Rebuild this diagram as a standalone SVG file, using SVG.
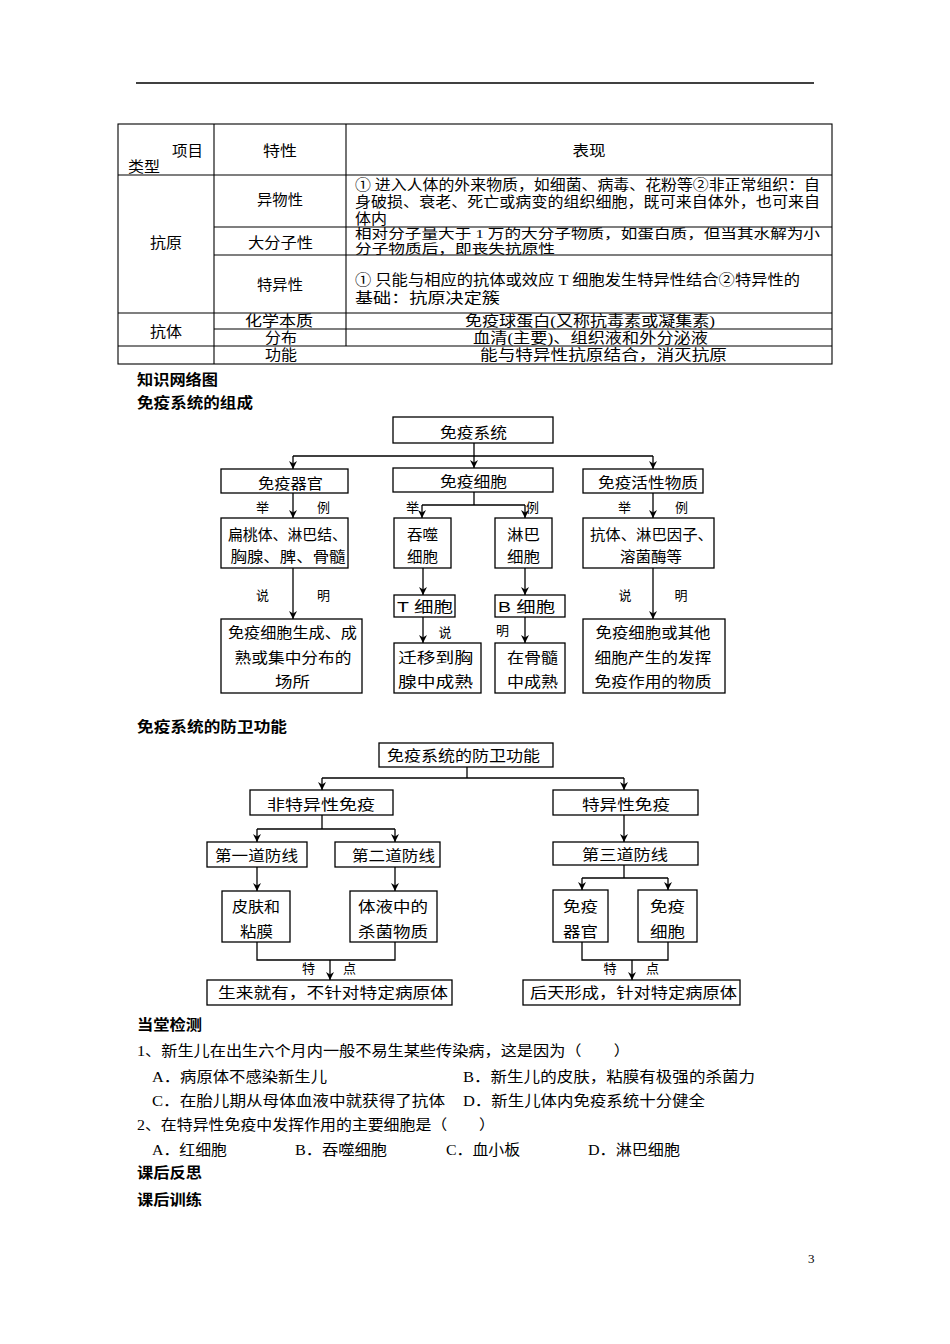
<svg xmlns="http://www.w3.org/2000/svg" width="950" height="1344" viewBox="0 0 950 1344">
<style>
.bx{fill:#fff;stroke:#000;stroke-width:1.3}
.ln{fill:none;stroke:#000;stroke-width:1.3}
.ar{fill:none;stroke:#000;stroke-width:1.3;marker-end:url(#ah)}
.tl{fill:none;stroke:#000;stroke-width:1.1}
text{fill:#000}
.s{font-family:"Liberation Serif","Noto Sans CJK SC",serif;font-size:14.5px}
.sm{font-size:13px}
.d{font-family:"Liberation Sans","Noto Sans CJK SC",sans-serif;font-size:15px;text-anchor:middle}
.c{text-anchor:middle}
.h{font-family:"Liberation Sans","Noto Sans CJK SC",sans-serif;font-size:14.5px;font-weight:bold}
.l{font-family:"Noto Sans CJK SC",sans-serif;font-size:13px;text-anchor:middle}
</style>
<defs>
<marker id="ah" viewBox="0 0 8 8" markerUnits="userSpaceOnUse" markerWidth="8" markerHeight="8" refX="8" refY="4" orient="auto">
<path d="M0,0 L8,4 L0,8 L2.5,4 z" fill="#000"/>
</marker>
</defs>
<line x1="136" y1="83" x2="814" y2="83" stroke="#000" stroke-width="1.5"/>

<g id="table">
<rect x="118" y="124" width="714" height="240" class="tl"/>
<line x1="214" y1="124" x2="214" y2="364" class="tl"/>
<line x1="346" y1="124" x2="346" y2="346" class="tl"/>
<line x1="118" y1="175" x2="832" y2="175" class="tl"/>
<line x1="214" y1="227" x2="832" y2="227" class="tl"/>
<line x1="214" y1="255" x2="832" y2="255" class="tl"/>
<line x1="118" y1="313" x2="832" y2="313" class="tl"/>
<line x1="214" y1="329" x2="832" y2="329" class="tl"/>
<line x1="118" y1="346" x2="832" y2="346" class="tl"/>
<text class="s c" x="187.5" y="156" textLength="31" lengthAdjust="spacingAndGlyphs">项目</text>
<text class="s c" x="144" y="172" textLength="32" lengthAdjust="spacingAndGlyphs">类型</text>
<text class="s c" x="280" y="156" textLength="34" lengthAdjust="spacingAndGlyphs">特性</text>
<text class="s c" x="589" y="156" textLength="33" lengthAdjust="spacingAndGlyphs">表现</text>
<text class="s c" x="280" y="205" textLength="46" lengthAdjust="spacingAndGlyphs">异物性</text>
<text class="s c" x="166" y="248" textLength="32" lengthAdjust="spacingAndGlyphs">抗原</text>
<text class="s c" x="280.5" y="248" textLength="65" lengthAdjust="spacingAndGlyphs">大分子性</text>
<text class="s c" x="280" y="290" textLength="46" lengthAdjust="spacingAndGlyphs">特异性</text>
<text class="s c" x="166" y="337" textLength="32" lengthAdjust="spacingAndGlyphs">抗体</text>
<text class="s c" x="279" y="326" textLength="68" lengthAdjust="spacingAndGlyphs">化学本质</text>
<text class="s c" x="281" y="343" textLength="32" lengthAdjust="spacingAndGlyphs">分布</text>
<text class="s c" x="281" y="360" textLength="32" lengthAdjust="spacingAndGlyphs">功能</text>
<text class="s" x="355" y="190" textLength="465" lengthAdjust="spacingAndGlyphs">① 进入人体的外来物质，如细菌、病毒、花粉等②非正常组织：自</text>
<text class="s" x="355" y="207" textLength="465" lengthAdjust="spacingAndGlyphs">身破损、衰老、死亡或病变的组织细胞，既可来自体外，也可来自</text>
<text class="s" x="355" y="224" textLength="32" lengthAdjust="spacingAndGlyphs">体内</text>
<text class="s sm" x="355" y="238" textLength="465" lengthAdjust="spacingAndGlyphs">相对分子量大于 1 万的大分子物质，如蛋白质，但当其水解为小</text>
<text class="s sm" x="355" y="253" textLength="200" lengthAdjust="spacingAndGlyphs">分子物质后，即丧失抗原性</text>
<text class="s" x="355" y="285" textLength="445" lengthAdjust="spacingAndGlyphs">① 只能与相应的抗体或效应 T 细胞发生特异性结合②特异性的</text>
<text class="s" x="355" y="303" textLength="145" lengthAdjust="spacingAndGlyphs">基础：抗原决定簇</text>
<text class="s" x="465" y="326" textLength="250" lengthAdjust="spacingAndGlyphs">免疫球蛋白(又称抗毒素或凝集素)</text>
<text class="s" x="473" y="343" textLength="235" lengthAdjust="spacingAndGlyphs">血清(主要)、组织液和外分泌液</text>
<text class="s" x="480" y="360" textLength="247" lengthAdjust="spacingAndGlyphs">能与特异性抗原结合，消灭抗原</text>
</g>

<g id="headings">
<text class="h" x="137" y="385" textLength="81" lengthAdjust="spacingAndGlyphs">知识网络图</text>
<text class="h" x="137" y="408" textLength="116" lengthAdjust="spacingAndGlyphs">免疫系统的组成</text>
<text class="h" x="137" y="732" textLength="150" lengthAdjust="spacingAndGlyphs">免疫系统的防卫功能</text>
<text class="h" x="137" y="1030" textLength="65" lengthAdjust="spacingAndGlyphs">当堂检测</text>
<text class="h" x="137" y="1178" textLength="65" lengthAdjust="spacingAndGlyphs">课后反思</text>
<text class="h" x="137" y="1205" textLength="65" lengthAdjust="spacingAndGlyphs">课后训练</text>
</g>

<g id="connectors">
<line x1="474" y1="443" x2="474" y2="468" class="ar"/>
<line x1="293" y1="456" x2="653" y2="456" class="ln"/>
<line x1="293" y1="456" x2="293" y2="469" class="ar"/>
<line x1="653" y1="456" x2="653" y2="469" class="ar"/>
<line x1="293" y1="493" x2="293" y2="518" class="ar"/>
<line x1="293" y1="568" x2="293" y2="619" class="ar"/>
<polyline points="474,492 474,505" class="ln"/>
<line x1="422" y1="505" x2="525" y2="505" class="ln"/>
<line x1="422" y1="505" x2="422" y2="518" class="ar"/>
<line x1="525" y1="505" x2="525" y2="518" class="ar"/>
<line x1="423" y1="568" x2="423" y2="595" class="ar"/>
<line x1="423" y1="617" x2="423" y2="643" class="ar"/>
<line x1="525" y1="568" x2="525" y2="595" class="ar"/>
<line x1="525" y1="617" x2="525" y2="643" class="ar"/>
<line x1="653" y1="493" x2="653" y2="518" class="ar"/>
<line x1="653" y1="568" x2="653" y2="619" class="ar"/>

<line x1="467" y1="767" x2="467" y2="778" class="ln"/>
<line x1="322" y1="778" x2="624" y2="778" class="ln"/>
<line x1="322" y1="778" x2="322" y2="790" class="ar"/>
<line x1="624" y1="778" x2="624" y2="790" class="ar"/>
<line x1="322" y1="815" x2="322" y2="829" class="ln"/>
<line x1="257" y1="829" x2="395" y2="829" class="ln"/>
<line x1="257" y1="829" x2="257" y2="842" class="ar"/>
<line x1="395" y1="829" x2="395" y2="842" class="ar"/>
<line x1="257" y1="867" x2="257" y2="891" class="ar"/>
<line x1="395" y1="867" x2="395" y2="891" class="ar"/>
<polyline points="257,942 257,960 395,960 395,942" class="ln"/>
<line x1="330" y1="960" x2="330" y2="980" class="ar"/>
<line x1="624" y1="815" x2="624" y2="842" class="ar"/>
<line x1="624" y1="865" x2="624" y2="878" class="ln"/>
<line x1="582" y1="878" x2="668" y2="878" class="ln"/>
<line x1="582" y1="878" x2="582" y2="890" class="ar"/>
<line x1="668" y1="878" x2="668" y2="890" class="ar"/>
<polyline points="582,942 582,960 668,960 668,942" class="ln"/>
<line x1="632" y1="960" x2="632" y2="980" class="ar"/>
</g>

<g id="labels">
<text class="l" x="262.5" y="512">举</text>
<text class="l" x="323.5" y="512">例</text>
<text class="l" x="262.5" y="600">说</text>
<text class="l" x="323.5" y="600">明</text>
<text class="l" x="412.5" y="512">举</text>
<text class="l" x="532.5" y="512">例</text>
<text class="l" x="445" y="637">说</text>
<text class="l" x="502.5" y="635">明</text>
<text class="l" x="624.5" y="512">举</text>
<text class="l" x="681.5" y="512">例</text>
<text class="l" x="625" y="600">说</text>
<text class="l" x="681" y="600">明</text>
<text class="l" x="308.5" y="973">特</text>
<text class="l" x="349.5" y="973">点</text>
<text class="l" x="610" y="973">特</text>
<text class="l" x="652.5" y="973">点</text>
</g>

<g id="n-mianyixitong"><rect x="393" y="417" width="160" height="26" class="bx"/><text class="d" x="473.5" y="438" textLength="67" lengthAdjust="spacingAndGlyphs">免疫系统</text></g>
<g id="n-qiguan"><rect x="221" y="469" width="127" height="24" class="bx"/><text class="d" x="290.5" y="489" textLength="65" lengthAdjust="spacingAndGlyphs">免疫器官</text></g>
<g id="n-xibao"><rect x="393" y="468" width="160" height="24" class="bx"/><text class="d" x="473.5" y="487" textLength="67" lengthAdjust="spacingAndGlyphs">免疫细胞</text></g>
<g id="n-huoxing"><rect x="583" y="469" width="120" height="24" class="bx"/><text class="d" x="648" y="488" textLength="100" lengthAdjust="spacingAndGlyphs">免疫活性物质</text></g>
<g id="n-biantaoti"><rect x="221" y="518" width="127" height="50" class="bx"/><text class="d" x="287.5" y="540" textLength="119" lengthAdjust="spacingAndGlyphs">扁桃体、淋巴结、</text><text class="d" x="288" y="562" textLength="115" lengthAdjust="spacingAndGlyphs">胸腺、脾、骨髓</text></g>
<g id="n-tunshi"><rect x="394" y="518" width="57" height="50" class="bx"/><text class="d" x="422.5" y="540" textLength="31" lengthAdjust="spacingAndGlyphs">吞噬</text><text class="d" x="422.5" y="562" textLength="31" lengthAdjust="spacingAndGlyphs">细胞</text></g>
<g id="n-linba"><rect x="495" y="518" width="57" height="50" class="bx"/><text class="d" x="523.5" y="540" textLength="33" lengthAdjust="spacingAndGlyphs">淋巴</text><text class="d" x="523.5" y="562" textLength="33" lengthAdjust="spacingAndGlyphs">细胞</text></g>
<g id="n-kangti"><rect x="583" y="518" width="131" height="50" class="bx"/><text class="d" x="651.5" y="540" textLength="123" lengthAdjust="spacingAndGlyphs">抗体、淋巴因子、</text><text class="d" x="651" y="562" textLength="62" lengthAdjust="spacingAndGlyphs">溶菌酶等</text></g>
<g id="n-t"><rect x="394" y="595" width="61" height="22" class="bx"/><text class="d" x="425" y="612" textLength="56" lengthAdjust="spacingAndGlyphs">T 细胞</text></g>
<g id="n-b"><rect x="495" y="595" width="70" height="22" class="bx"/><text class="d" x="526.5" y="612" textLength="57" lengthAdjust="spacingAndGlyphs">B 细胞</text></g>
<g id="n-changsuo"><rect x="221" y="619" width="141" height="74" class="bx"/><text class="d" x="292.5" y="638" textLength="129" lengthAdjust="spacingAndGlyphs">免疫细胞生成、成</text><text class="d" x="293" y="663" textLength="117" lengthAdjust="spacingAndGlyphs">熟或集中分布的</text><text class="d" x="292.5" y="687" textLength="35" lengthAdjust="spacingAndGlyphs">场所</text></g>
<g id="n-qianyi"><rect x="394" y="643" width="87" height="50" class="bx"/><text class="d" x="435.5" y="663" textLength="75" lengthAdjust="spacingAndGlyphs">迁移到胸</text><text class="d" x="435.5" y="687" textLength="75" lengthAdjust="spacingAndGlyphs">腺中成熟</text></g>
<g id="n-gusui"><rect x="495" y="643" width="70" height="50" class="bx"/><text class="d" x="532.5" y="663" textLength="51" lengthAdjust="spacingAndGlyphs">在骨髓</text><text class="d" x="532.5" y="687" textLength="51" lengthAdjust="spacingAndGlyphs">中成熟</text></g>
<g id="n-wuzhi"><rect x="583" y="619" width="142" height="74" class="bx"/><text class="d" x="653" y="638" textLength="115" lengthAdjust="spacingAndGlyphs">免疫细胞或其他</text><text class="d" x="653" y="663" textLength="117" lengthAdjust="spacingAndGlyphs">细胞产生的发挥</text><text class="d" x="653" y="687" textLength="117" lengthAdjust="spacingAndGlyphs">免疫作用的物质</text></g>

<g id="n-fangwei"><rect x="379" y="743" width="174" height="24" class="bx"/><text class="d" x="463.5" y="761" textLength="153" lengthAdjust="spacingAndGlyphs">免疫系统的防卫功能</text></g>
<g id="n-feiteyi"><rect x="250" y="790" width="143" height="25" class="bx"/><text class="d" x="321" y="810" textLength="108" lengthAdjust="spacingAndGlyphs">非特异性免疫</text></g>
<g id="n-teyi"><rect x="553" y="790" width="145" height="25" class="bx"/><text class="d" x="626" y="810" textLength="88" lengthAdjust="spacingAndGlyphs">特异性免疫</text></g>
<g id="n-di1"><rect x="207" y="842" width="100" height="25" class="bx"/><text class="d" x="256.5" y="861" textLength="83" lengthAdjust="spacingAndGlyphs">第一道防线</text></g>
<g id="n-di2"><rect x="335" y="842" width="105" height="25" class="bx"/><text class="d" x="393.5" y="861" textLength="83" lengthAdjust="spacingAndGlyphs">第二道防线</text></g>
<g id="n-di3"><rect x="553" y="842" width="145" height="23" class="bx"/><text class="d" x="625" y="860" textLength="86" lengthAdjust="spacingAndGlyphs">第三道防线</text></g>
<g id="n-pifu"><rect x="222" y="891" width="68" height="51" class="bx"/><text class="d" x="256" y="912" textLength="48" lengthAdjust="spacingAndGlyphs">皮肤和</text><text class="d" x="256.5" y="937" textLength="33" lengthAdjust="spacingAndGlyphs">粘膜</text></g>
<g id="n-tiye"><rect x="350" y="891" width="87" height="51" class="bx"/><text class="d" x="393" y="912" textLength="70" lengthAdjust="spacingAndGlyphs">体液中的</text><text class="d" x="393" y="937" textLength="70" lengthAdjust="spacingAndGlyphs">杀菌物质</text></g>
<g id="n-qiguan2"><rect x="553" y="890" width="55" height="52" class="bx"/><text class="d" x="580.5" y="912" textLength="35" lengthAdjust="spacingAndGlyphs">免疫</text><text class="d" x="580.5" y="937" textLength="35" lengthAdjust="spacingAndGlyphs">器官</text></g>
<g id="n-xibao2"><rect x="638" y="890" width="59" height="52" class="bx"/><text class="d" x="667.5" y="912" textLength="35" lengthAdjust="spacingAndGlyphs">免疫</text><text class="d" x="667.5" y="937" textLength="35" lengthAdjust="spacingAndGlyphs">细胞</text></g>
<g id="n-shenglai"><rect x="207" y="980" width="245" height="25" class="bx"/><text class="d" x="333" y="998" textLength="230" lengthAdjust="spacingAndGlyphs">生来就有，不针对特定病原体</text></g>
<g id="n-houtian"><rect x="523" y="980" width="217" height="25" class="bx"/><text class="d" x="633.5" y="998" textLength="207" lengthAdjust="spacingAndGlyphs">后天形成，针对特定病原体</text></g>

<g id="questions">
<text class="s" x="137" y="1056" textLength="493" lengthAdjust="spacingAndGlyphs">1、新生儿在出生六个月内一般不易生某些传染病，这是因为（　　）</text>
<text class="s" x="152" y="1082" textLength="175" lengthAdjust="spacingAndGlyphs">A．病原体不感染新生儿</text>
<text class="s" x="463" y="1082" textLength="292" lengthAdjust="spacingAndGlyphs">B．新生儿的皮肤，粘膜有极强的杀菌力</text>
<text class="s" x="152" y="1106" textLength="293" lengthAdjust="spacingAndGlyphs">C．在胎儿期从母体血液中就获得了抗体</text>
<text class="s" x="463" y="1106" textLength="242" lengthAdjust="spacingAndGlyphs">D．新生儿体内免疫系统十分健全</text>
<text class="s" x="137" y="1130" textLength="358" lengthAdjust="spacingAndGlyphs">2、在特异性免疫中发挥作用的主要细胞是（　　）</text>
<text class="s" x="152" y="1155" textLength="75" lengthAdjust="spacingAndGlyphs">A．红细胞</text>
<text class="s" x="295" y="1155" textLength="92" lengthAdjust="spacingAndGlyphs">B．吞噬细胞</text>
<text class="s" x="446" y="1155" textLength="74" lengthAdjust="spacingAndGlyphs">C．血小板</text>
<text class="s" x="588" y="1155" textLength="92" lengthAdjust="spacingAndGlyphs">D．淋巴细胞</text>
<text x="808" y="1263" font-family="Liberation Serif, serif" font-size="13">3</text>
</g>
</svg>
